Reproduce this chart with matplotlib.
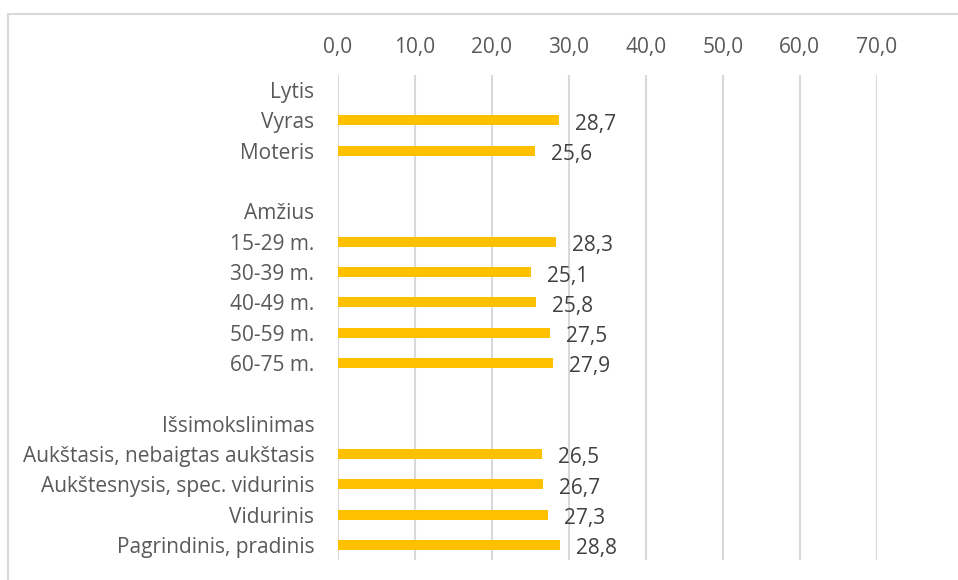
import matplotlib.pyplot as plt
from matplotlib.lines import Line2D

# rows top to bottom; None = header or spacer row (no bar)
labels = ["Lytis", "Vyras", "Moteris", "",
          "Amžius", "15-29 m.", "30-39 m.", "40-49 m.", "50-59 m.", "60-75 m.", "",
          "Išsimokslinimas", "Aukštasis, nebaigtas aukštasis",
          "Aukštesnysis, spec. vidurinis", "Vidurinis", "Pagrindinis, pradinis"]
values = [None, 28.7, 25.6, None,
          None, 28.3, 25.1, 25.8, 27.5, 27.9, None,
          None, 26.5, 26.7, 27.3, 28.8]
xticks = [0, 10, 20, 30, 40, 50, 60, 70]

plt.rcParams["font.family"] = ["Open Sans", "DejaVu Sans"]
FS = 15

fig = plt.figure(figsize=(9.58, 5.8), dpi=100)
ax = fig.add_axes([0.3528, 0.0345, 0.5622, 0.8362])

ypos = list(range(len(labels)))
bar_y = [y for y, v in zip(ypos, values) if v is not None]
bar_v = [v for v in values if v is not None]
ax.barh(bar_y, bar_v, height=0.33, color="#FFC000", zorder=3)

for y, v in zip(bar_y, bar_v):
    ax.annotate(f"{v:.1f}".replace(".", ","), (v, y), xytext=(16, -4),
                textcoords="offset pixels", va="center", ha="left",
                fontsize=FS, color="#404040")

ax.set_ylim(len(labels) - 0.5, -0.5)
ax.set_yticks(ypos)
ax.set_yticklabels(labels, fontsize=FS, color="#595959")
ax.set_xlim(0, 70)
ax.set_xticks(xticks)
ax.set_xticklabels([f"{t:.1f}".replace(".", ",") for t in xticks],
                   fontsize=FS, color="#595959")
ax.xaxis.tick_top()
ax.tick_params(axis="both", length=0)
ax.tick_params(axis="y", pad=17)
ax.tick_params(axis="x", pad=12)
for s in ax.spines.values():
    s.set_visible(False)
ax.grid(axis="x", color="#D9D9D9", linewidth=1.5, zorder=0)
ax.set_axisbelow(True)

# chart border (only top and left edge visible in the crop)
fig.add_artist(Line2D([8 / 958, 1], [1 - 14 / 580, 1 - 14 / 580],
                      transform=fig.transFigure, color="#D9D9D9", linewidth=1.5))
fig.add_artist(Line2D([8 / 958, 8 / 958], [0, 1 - 14 / 580],
                      transform=fig.transFigure, color="#D9D9D9", linewidth=1.5))

fig.savefig("out.png", dpi=100, facecolor="white")
